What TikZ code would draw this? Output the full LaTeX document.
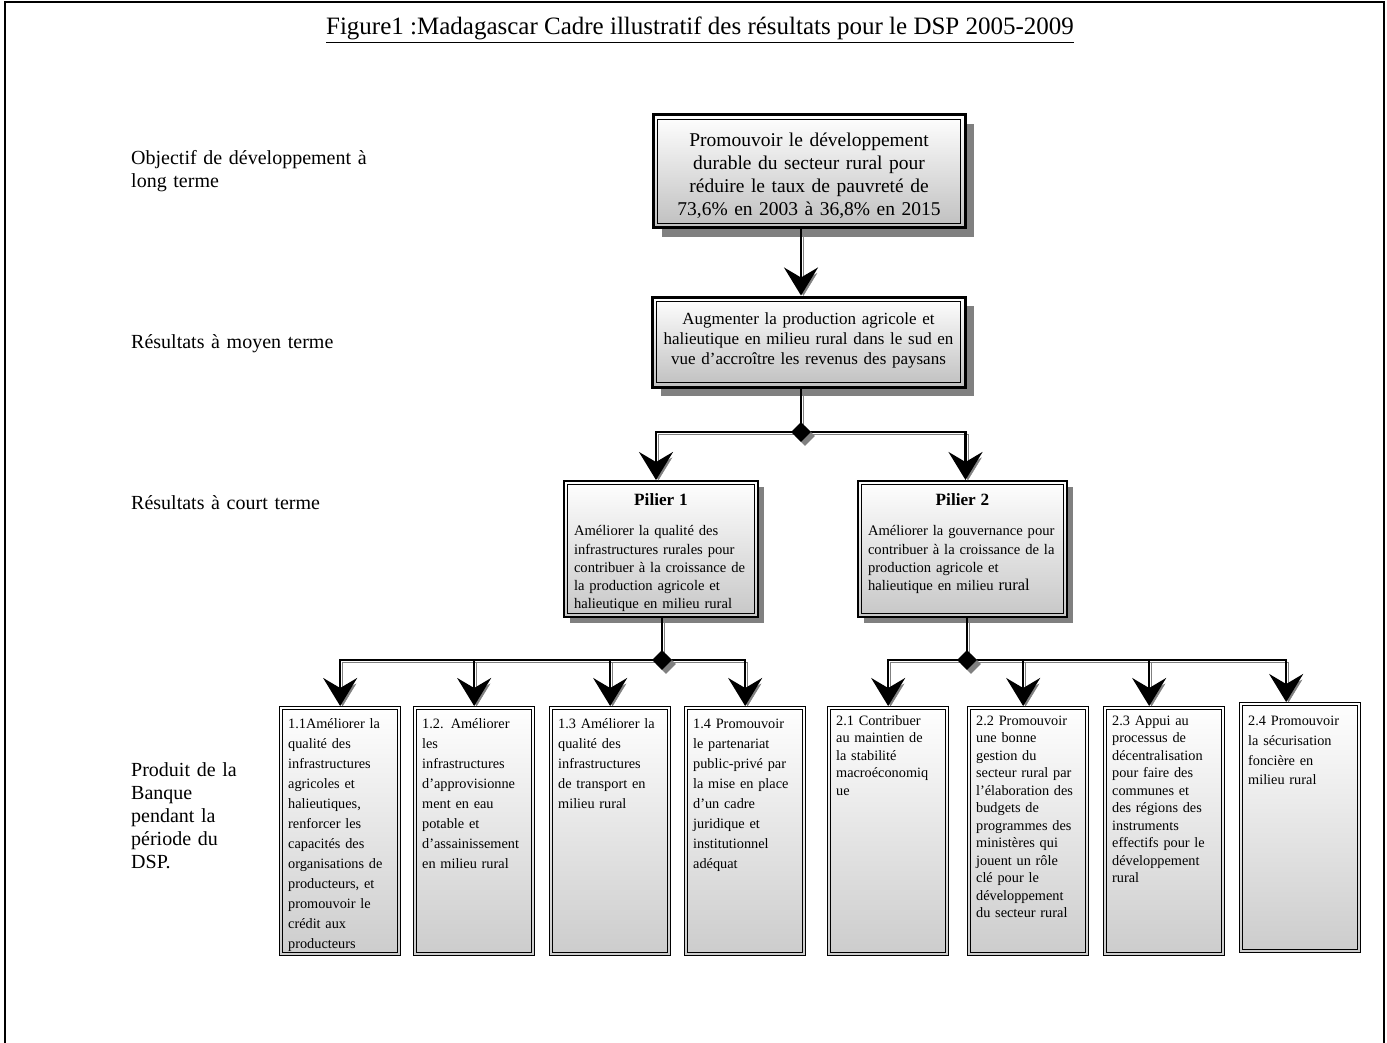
\documentclass[tikz,border=0pt]{standalone}
\usepackage{fontspec}
\setmainfont{Liberation Serif}
\usetikzlibrary{arrows.meta,shapes.geometric,shadows,calc}
\pgfdeclarelayer{fg}
\pgfsetlayers{main,fg}
\newcommand\pillarheadfont{\fontsize{17.2}{19}\selectfont\bfseries}
\tikzset{
  innerline/.style 2 args={path picture={\draw[line width=#2] ([xshift=#1,yshift=-#1]path picture bounding box.north west) rectangle ([xshift=-#1,yshift=#1]path picture bounding box.south east);}},
  topbox/.style={draw, line width=3pt, innerline={4.6pt}{1.4pt}, top color=white, bottom color=black!25,
    drop shadow={shadow xshift=9pt, shadow yshift=-9pt, fill=black!50, opacity=1}, align=center, inner ysep=0pt},
  pillarbox/.style={draw, line width=2pt, innerline={3.6pt}{1pt}, top color=white, bottom color=black!22,
    drop shadow={shadow xshift=6pt, shadow yshift=-6pt, fill=black!50, opacity=1}, align=left, inner xsep=10pt,
    inner ysep=0pt, anchor=north west, text height=24pt, text depth=112pt, font=\fontsize{14.6}{18.3}\selectfont},
  prodbox/.style={draw, line width=1.3pt, innerline={2.8pt}{0.9pt}, top color=white, bottom color=black!20,
    align=left, inner xsep=8.5pt, inner ysep=0pt, anchor=north west, text width=104pt},
  prodA/.style={prodbox, text height=22pt, text depth=227pt, font=\fontsize{14.3}{20}\selectfont},
  prodB/.style={prodbox, text height=18.5pt, text depth=230.5pt, font=\fontsize{14.3}{17.5}\selectfont},
  prodC/.style={prodbox, text height=23pt, text depth=227pt, font=\fontsize{14.3}{19.7}\selectfont},
  junction/.style={diamond, aspect=1, fill=black, minimum width=20pt, minimum height=20pt, inner sep=0pt,
    drop shadow={shadow xshift=4pt, shadow yshift=-4pt, fill=black!50, opacity=1}},
  conn/.style={line width=2.6pt, preaction={draw=black!50, transform canvas={shift={(2.4pt,-2.4pt)}}}},
  arr/.style={conn, -{Stealth[length=28pt, width=34pt, inset=10pt]}},
  lab/.style={anchor=base west, align=left, text width=260pt, inner sep=0pt, font=\fontsize{20}{23}\selectfont},
}
\begin{document}
\begin{tikzpicture}[x=1pt,y=-1pt]
\useasboundingbox (0,0) rectangle (1387,1043);
\draw[line width=1.6pt] (5,1043) -- (5,2) -- (1384,2) -- (1384,1043);

\node[anchor=base, inner sep=0pt, font=\fontsize{25}{28}\selectfont] (title) at (700,35)
  {\underline{Figure1 :Madagascar Cadre illustratif des résultats pour le DSP 2005-2009}};

\node[lab] (l1) at (131,165) {Objectif de développement à\\long terme};
\node[lab] (l2) at (131,348) {Résultats à moyen terme};
\node[lab] (l3) at (131,509) {Résultats à court terme};
\node[lab] (l4) at (131,776) {Produit de la\\Banque\\pendant la\\période du\\DSP.};

\node[topbox, text width=298pt, inner xsep=7pt, minimum height=113pt, text height=22pt, font=\fontsize{19.5}{22.8}\selectfont] (obj) at (809,171.5)
  {Promouvoir le développement\\durable du secteur rural pour\\réduire le taux de pauvreté de\\73,6\% en 2003 à 36,8\% en 2015};
\node[topbox, text width=311pt, inner xsep=1pt, minimum height=90pt, text depth=47pt, font=\fontsize{17}{20}\selectfont] (res) at (808.5,342)
  {Augmenter la production agricole et\\halieutique en milieu rural dans le sud en\\vue d’accroître les revenus des paysans};

\node[pillarbox, text width=174pt] (p1) at (563,480)
  {\makebox[\linewidth]{\pillarheadfont Pilier 1}\\[12.4pt]Améliorer la qualité des\\infrastructures rurales pour\\contribuer à la croissance de\\la production agricole et\\halieutique en milieu rural};
\node[pillarbox, text width=189pt] (p2) at (857,480)
  {\makebox[\linewidth]{\pillarheadfont Pilier 2}\\[12.4pt]Améliorer la gouvernance pour\\contribuer à la croissance de la\\production agricole et\\halieutique en milieu {\fontsize{16.5}{18.3}\selectfont rural}};

\node[prodA] (b11) at (279,706) {1.1Améliorer la\\qualité des\\infrastructures\\agricoles et\\halieutiques,\\renforcer les\\capacités des\\organisations de\\producteurs, et\\promouvoir le\\crédit aux\\producteurs};
\node[prodA] (b12) at (413,706) {1.2. Améliorer\\les\\infrastructures\\d’approvisionne\\ment en eau\\potable et\\d’assainissement\\en milieu rural};
\node[prodA] (b13) at (549,706) {1.3 Améliorer la\\qualité des\\infrastructures\\de transport en\\milieu rural};
\node[prodA] (b14) at (684,706) {1.4 Promouvoir\\le partenariat\\public-privé par\\la mise en place\\d’un cadre\\juridique et\\institutionnel\\adéquat};

\node[prodB] (b21) at (827,706) {2.1 Contribuer\\au maintien de\\la stabilité\\macroéconomiq\\ue};
\node[prodB] (b22) at (967,706) {2.2 Promouvoir\\une bonne\\gestion du\\secteur rural par\\l’élaboration des\\budgets de\\programmes des\\ministères qui\\jouent un rôle\\clé pour le\\développement\\du secteur rural};
\node[prodB] (b23) at (1103,706) {2.3 Appui au\\processus de\\décentralisation\\pour faire des\\communes et\\des régions des\\instruments\\effectifs pour le\\développement\\rural};
\node[prodC] (b24) at (1239,702) {2.4 Promouvoir\\la sécurisation\\foncière en\\milieu rural};

\begin{pgfonlayer}{fg}
\node[junction] (d1) at (801,432) {};
\node[junction] (d2) at (662,660) {};
\node[junction] (d3) at (967,660) {};
\end{pgfonlayer}

\draw[arr] (obj.south -| d1) -- (res.north -| d1);
\draw[conn] (res.south -| d1) -- (d1.center);
\draw[arr] (d1.center) -| ([xshift=-5pt]p1.north);
\draw[arr] (d1.center) -| ([xshift=3pt]p2.north);

\draw[conn] (p1.south -| d2) -- (d2.center);
\draw[arr] (d2.center) -| (b11.north);
\draw[arr] (d2.center) -| (b12.north);
\draw[arr] (d2.center) -| (b13.north);
\draw[arr] (d2.center) -| (b14.north);

\draw[conn] (p2.south -| d3) -- (d3.center);
\draw[arr] (d3.center) -| ([xshift=-14pt]b24.north);
\draw[arr] (d3.center) -| ([xshift=-15pt]b23.north);
\draw[arr] (d3.center) -| ([xshift=-5pt]b22.north);
\draw[arr] (d3.center) -| (b21.north);
\end{tikzpicture}
\end{document}
